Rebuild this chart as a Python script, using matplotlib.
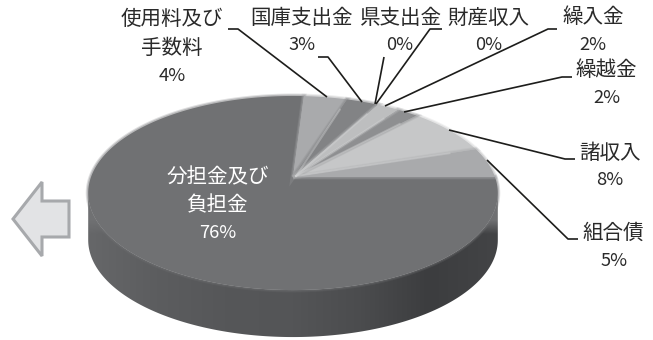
import numpy as np
import matplotlib
matplotlib.use("Agg")
import matplotlib.pyplot as plt
from matplotlib.patches import Polygon
from matplotlib.colors import LinearSegmentedColormap, to_rgb

plt.rcParams['font.family'] = ['Noto Sans CJK JP', 'DejaVu Sans']

# Revenue shares, clockwise from the top of the pie
categories = ['使用料及び\n手数料', '国庫支出金', '県支出金', '財産収入', '繰入金',
              '繰越金', '諸収入', '組合債', '分担金及び\n負担金']
shares = [4, 3, 0, 0, 2, 2, 8, 5, 76]
face_colors = ['#a9aaac', '#828385', '#8a8b8d', '#8a8b8d', '#bdbebf',
               '#8e8f91', '#c6c7c8', '#a9aaac', '#707173']

# Label placement in pixels: one centre per name line, then the percentage centre
name_pos = [[(172, 19), (172, 48)], [(302, 18)], [(401, 18)], [(488, 18)], [(593, 17)],
            [(606, 70)], [(610, 153)], [(613, 233)], [(218, 177), (218, 205)]]
pct_pos = [(172, 76), (302, 45), (400, 45), (489, 45), (593, 45), (607, 98),
           (610, 180), (614, 261), (218, 233)]
leaders = [[(228, 29), (238, 29), (327, 97)], [(318, 57), (328, 57), (362, 102)],
           [(384, 57), (375, 104)], [(442, 29), (430, 29), (376, 104)],
           [(557, 29), (548, 29), (385, 106)], [(572, 77), (562, 77), (404, 112)],
           [(575, 159), (565, 159), (449, 130)], [(578, 239), (568, 239), (487, 160)]]
arrow_outline = [(13, 219), (42, 182), (42, 201), (69, 201), (69, 237), (42, 237), (42, 256)]

# Perspective projection of the pie disc
CX, CY, RX, RY, K, DEPTH, ROTATION = 293, 177, 202, 94.4, 0.165, 47, 3.6


def project(clock_deg, radius=1.0, drop=0.0):
    t = np.radians(np.asarray(clock_deg, dtype=float))
    x_u, y_u = radius * np.sin(t), radius * np.cos(t)
    w = 1 + K * y_u
    return CX + RX * x_u / w, CY - RY * y_u / w + drop


fig = plt.figure(figsize=(6.53, 3.40), dpi=100)
ax = fig.add_axes([0, 0, 1, 1])
ax.axis('off')

# Side wall: the front half of the rim extruded downwards
full = np.linspace(0, 360, 721)
tx, ty = project(full)
bx, by = project(full, drop=DEPTH)
lo, hi = sorted((np.argmin(tx), np.argmax(tx)))
wall_xy = np.column_stack([np.r_[tx[lo:hi + 1], bx[lo:hi + 1][::-1]],
                           np.r_[ty[lo:hi + 1], by[lo:hi + 1][::-1]]])
wall = Polygon(wall_xy, closed=True, fc='none', ec='none')
ax.add_patch(wall)

# Wall shading: darker towards the right, melting into the top colour at both ends
wall_cmap = LinearSegmentedColormap.from_list(
    'wall', ['#666769', '#5c5d5f', '#565759', '#545557', '#4b4c4e', '#3c3d3f', '#434446'])
gx, gy = np.meshgrid(np.linspace(0, 1, 256), np.linspace(90, 340, 251))
shade = wall_cmap(gx)[..., :3]
blend = np.clip((234 - gy) / 14, 0, 1)[..., None]
shade = shade * (1 - blend) + np.array(to_rgb(face_colors[-1])) * blend
im = ax.imshow(shade, extent=(88, 498, 340, 90), aspect='auto', zorder=1)
im.set_clip_path(wall)
ax.set_xlim(0, 653)
ax.set_ylim(340, 0)

# Top face of the pie, one wedge per share, with a soft fringe around each wedge
total = sum(shares)
edges = ROTATION + np.r_[0, np.cumsum(shares)] * 360.0 / total
slices = [(s, e, c) for s, e, c in zip(edges[:-1], edges[1:], face_colors) if e > s]
slices.sort(key=lambda item: item[0] - item[1])
for start, stop, color in slices:
    a = np.linspace(start, stop, max(int(stop - start) * 2, 8))
    px, py = project(a)
    outline = np.column_stack([np.r_[CX, px], np.r_[CY, py]])
    ax.add_patch(Polygon(outline, closed=True, fc=color, ec='none', zorder=3))
    for lw, alpha in ((3.5, 0.22), (2.0, 0.35)):
        ax.add_patch(Polygon(outline, closed=True, fc='none', ec=color, lw=lw, alpha=alpha, zorder=3))

# Pale seams where the narrow wedges meet
for stop, share in zip(edges[1:8], shares):
    if share > 0:
        ex, ey = project(stop, radius=0.85)
        ax.plot([CX + 3, ex], [CY - 1, ey], color='#d4d5d6', lw=1.4, alpha=0.4, zorder=4)

# Leader lines
for path in leaders:
    xs, ys = zip(*path)
    ax.plot(xs, ys, color='#1d1d1b', lw=1.2, solid_capstyle='butt', zorder=5)

# Category names and percentages
for name, share, lines_xy, pct_xy in zip(categories, shares, name_pos, pct_pos):
    color = 'white' if share == max(shares) else '#2a2a2a'
    for line, xy in zip(name.split('\n'), lines_xy):
        ax.text(*xy, line, ha='center', va='center', fontsize=14.8, color=color, zorder=6)
    ax.text(*pct_xy, f'{share}%', ha='center', va='center', fontsize=13.2, color=color, zorder=6)

# Direction arrow on the left
ax.add_patch(Polygon(arrow_outline, closed=True, fc='#e2e3e5', ec='#a7a9ac', lw=2.2, zorder=5))

fig.savefig('out.png', dpi=100)
